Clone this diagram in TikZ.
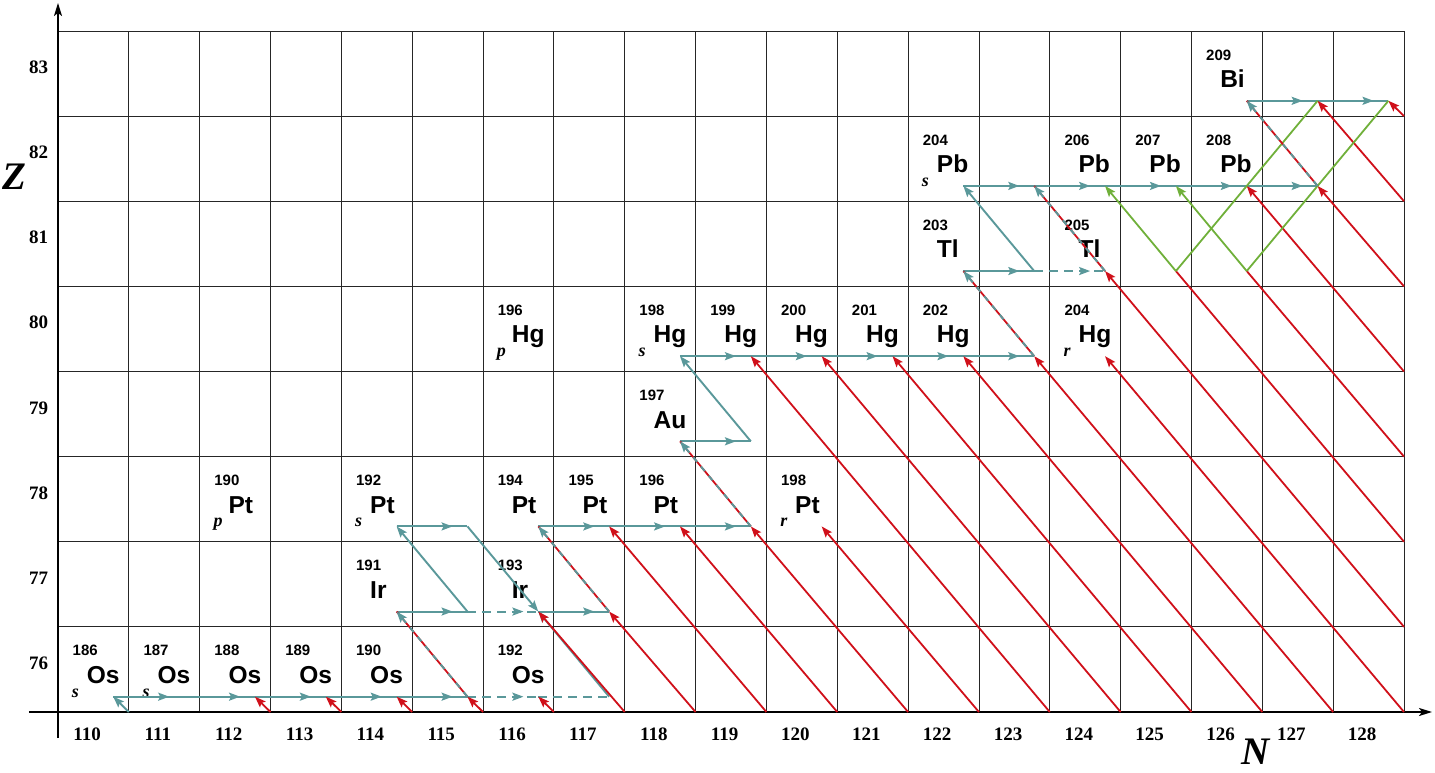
\documentclass[tikz,border=0pt]{standalone}
\usepackage{fontspec}
\setmainfont{Liberation Serif}
\newfontfamily\hv{Liberation Sans}
\usetikzlibrary{arrows.meta,decorations.markings}
\definecolor{tealc}{RGB}{90,152,154}
\definecolor{redc}{RGB}{208,16,26}
\definecolor{greenc}{RGB}{112,176,58}
\tikzset{
  gridline/.style={line width=0.9pt, draw=black!85},
  axisline/.style={line width=1.8pt, draw=black, -{Stealth[length=13pt,width=8pt,inset=3pt]}},
  tl/.style={draw=tealc, line width=1.9pt},
  rd/.style={draw=redc, line width=1.8pt},
  gr/.style={draw=greenc, line width=1.8pt},
  tip/.style={-{Stealth[length=11pt,width=8pt,inset=2pt]}},
  tdash/.style={dash pattern=on 9pt off 6pt},
  odash/.style={dash pattern=on 6pt off 6pt},
  midarr/.style={postaction={decorate}, decoration={markings, mark=at position 0.79 with {\arrow[tealc]{Stealth[length=11pt,width=8pt,inset=2pt]}}}},
  massno/.style={anchor=base west, inner sep=0pt, font=\hv\bfseries\fontsize{15}{15}\selectfont},
  elem/.style={anchor=base west, inner sep=0pt, font=\hv\bfseries\fontsize{24.5}{24.5}\selectfont},
  proc/.style={anchor=base west, inner sep=0pt, font=\bfseries\itshape\fontsize{18}{18}\selectfont},
  axnum/.style={anchor=base, inner sep=0pt, font=\bfseries\fontsize{19}{19}\selectfont},
  axname/.style={anchor=base, inner sep=0pt, font=\bfseries\itshape\fontsize{39}{39}\selectfont}
}
\begin{document}
\begin{tikzpicture}[x=70.842pt, y=85.125pt]
\useasboundingbox (-58pt,-60pt) rectangle (1377pt,712pt);
% coordinates
\foreach \c in {0,...,19} {\coordinate (b\c) at (\c,0); \coordinate (t\c) at (\c,8);}
\foreach \k in {0,...,8} {\coordinate (r\k) at (19,\k); \coordinate (l\k) at (0,\k);}
\foreach \N in {110,...,128} {\foreach \Z in {76,...,83} {\coordinate (p\N-\Z) at ({\N-110+0.78},{\Z-76+0.18});}}
% grid
\foreach \c in {1,...,19} {\draw[gridline] (b\c) -- (t\c);}
\foreach \k in {1,...,8} {\draw[gridline] (l\k) -- (r\k);}
% axes
\coordinate (xa0) at (-29pt,0);
\coordinate (xa1) at (1374pt,0);
\coordinate (ya0) at (0,-26pt);
\coordinate (ya1) at (0,709pt);
\draw[axisline] (xa0) -- (xa1);
\draw[axisline] (ya0) -- (ya1);
% axis numbers
\foreach \Z in {76,...,83} {\node[axnum] (zl\Z) at (-0.275,{\Z-76+0.5}) {\Z};}
\foreach \N in {110,...,128} {\node[axnum] (nl\N) at ({\N-110+0.41},-0.329) {\N};}
\node[axname] (Zlab) at (-0.621,6.14) {Z};
\node[axname] (Nlab) at (16.91,-0.62) {N};
% nuclide labels
\foreach \N/\Z/\A/\E in {110/76/186/Os,111/76/187/Os,112/76/188/Os,113/76/189/Os,114/76/190/Os,116/76/192/Os,
  114/77/191/Ir,116/77/193/Ir,
  112/78/190/Pt,114/78/192/Pt,116/78/194/Pt,117/78/195/Pt,118/78/196/Pt,120/78/198/Pt,
  118/79/197/Au,
  116/80/196/Hg,118/80/198/Hg,119/80/199/Hg,120/80/200/Hg,121/80/201/Hg,122/80/202/Hg,124/80/204/Hg,
  122/81/203/Tl,124/81/205/Tl,
  122/82/204/Pb,124/82/206/Pb,125/82/207/Pb,126/82/208/Pb,
  126/83/209/Bi} {
  \node[massno] (m\A\E) at ({\N-110+0.205},{\Z-76+0.659}) {\A};
  \node[elem] (e\A\E) at ({\N-110+0.404},{\Z-76+0.335}) {\E};
}
\foreach \N/\Z/\A/\E/\P in {110/76/186/Os/s,111/76/187/Os/s,114/78/192/Pt/s,118/80/198/Hg/s,122/82/204/Pb/s,
  112/78/190/Pt/p,116/80/196/Hg/p,120/78/198/Pt/r,124/80/204/Hg/r} {
  \node[proc] (q\A\E) at ({\N-110+0.193},{\Z-76+0.176}) {\P};
}
% teal s-process: horizontal
\foreach \a/\b/\Z in {110/111/76,111/112/76,112/113/76,113/114/76,114/115/76,
  114/115/77,116/117/77,
  114/115/78,116/117/78,117/118/78,118/119/78,
  118/119/79,
  118/119/80,119/120/80,120/121/80,121/122/80,122/123/80,
  122/123/81,
  122/123/82,123/124/82,124/125/82,125/126/82,126/127/82,
  126/127/83,127/128/83} {
  \draw[tl, midarr] (p\a-\Z) -- (p\b-\Z);
}
\draw[tl, tdash, midarr] (p115-76) -- (p116-76);
\draw[tl, tdash] (p116-76) -- (p117-76);
\draw[tl, tdash, midarr] (p115-77) -- (p116-77);
\draw[tl, tdash, midarr] (p123-81) -- (p124-81);
% teal diagonals
\draw[tl, tip] (b1) -- (p110-76);
\draw[tl, tip] (p115-77) -- (p114-78);
\draw[tl, tip] (p115-78) -- (p116-77);
\draw[tl, tip] (p117-76) -- (p116-77);
\draw[tl, tip] (p119-79) -- (p118-80);
\draw[tl, tip] (p123-81) -- (p122-82);
% red r-process lines
\foreach \s/\e in {b3/p112-76,b4/p113-76,b5/p114-76,b6/p115-76,b7/p116-76,b8/p116-77,b9/p117-77,
  b10/p117-78,b11/p118-78,b12/p119-78,b13/p120-78,b14/p119-80,b15/p120-80,b16/p121-80,
  b17/p122-80,b18/p123-80,b19/p124-80,r1/p124-81,r4/p126-82,r5/p127-82,r6/p127-83,r7/p128-83} {
  \draw[rd, tip] (\s) -- (\e);
}
\draw[rd] (r2) -- (p125-81);
\draw[rd] (r3) -- (p126-81);
% green alpha/beta lines
\draw[gr] (p127-83) -- (p125-81);
\draw[gr, tip] (p125-81) -- (p124-82);
\draw[gr] (p128-83) -- (p126-81);
\draw[gr, tip] (p126-81) -- (p125-82);
% red under teal dashed (shared beta decays)
\foreach \s/\e in {p115-76/p114-77,p117-77/p116-78,p119-78/p118-79,p123-80/p122-81,p124-81/p123-82,p127-82/p126-83} {
  \draw[rd] (\s) -- (\e);
  \draw[tl, odash, tip] (\s) -- (\e);
}
\end{tikzpicture}
\end{document}
